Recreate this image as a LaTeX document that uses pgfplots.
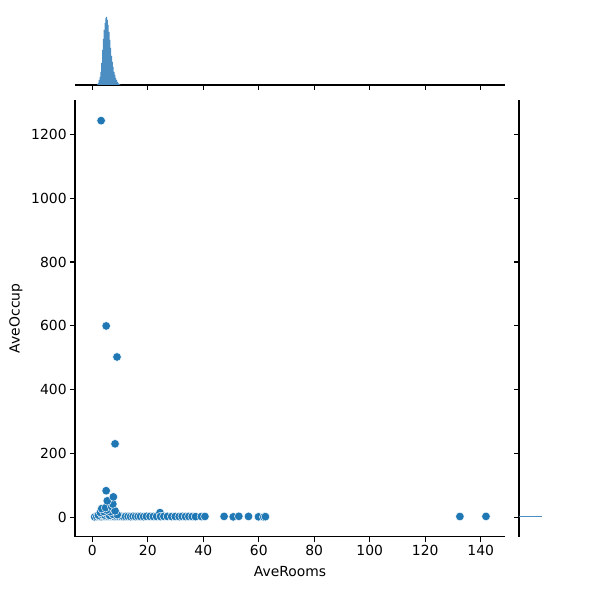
\documentclass[border=0pt]{standalone}
\usepackage{fontspec}
\setmainfont{DejaVu Sans}
\usepackage{pgfplots}
\pgfplotsset{compat=1.18}
\definecolor{c0}{HTML}{1F77B4}
\definecolor{histc}{HTML}{4C8EC2}
\begin{document}
\begin{tikzpicture}
\useasboundingbox (0bp,0bp) rectangle (603bp,590bp);
\pgfplotsset{
  base/.style={
    scale only axis,
    /pgf/number format/assume math mode=true,
    /pgf/number format/1000 sep={},
    tick align=outside,
    major tick length=4.86bp,
    tick style={black, line width=1.1bp},
    axis line style={black, line width=1.1bp, -},
    ticklabel style={font=\fontsize{13.9bp}{16bp}\selectfont},
    clip=false,
  }
}
% main joint axis
\begin{axis}[base,
  at={(75bp,53.3bp)}, anchor=south west,
  width=430bp, height=436.7bp,
  xmin=-6.24, xmax=148.76, ymin=-61, ymax=1308,
  axis x line*=bottom, axis y line*=left,
  xtick={0,20,...,140}, ytick={0,200,...,1200},
  xlabel={AveRooms}, ylabel={AveOccup},
  every axis x label/.style={at={(axis description cs:0.5,0)}, yshift=-35bp, anchor=center, font=\fontsize{13.9bp}{16bp}\selectfont},
  every axis y label/.style={at={(axis description cs:0,0.5)}, xshift=-59bp, rotate=90, anchor=center, font=\fontsize{13.9bp}{16bp}\selectfont},
]
\addplot[only marks, mark=*, mark size=4.3bp,
  mark options={fill=c0, draw=white, line width=0.45bp}] coordinates {
(0.85,1.1) (1.6,2.2) (2.4,2.8) (3.2,1.9) (4.0,3.2) (4.8,2.5) (5.6,3.0) (6.4,2.4)
(7.2,3.1) (8.0,2.2) (8.8,2.8) (9.6,2.3) (10.4,2.6) (11.2,2.1) (12.0,2.4)
(2.2,6.5) (3.4,9.0) (4.4,7.0) (5.2,11.0) (6.2,6.0) (7.4,9.5) (9.0,8.0)
(2.9,15) (4.1,18) (6.4,17) (5.2,23) (3.4,27) (4.8,30) (7.0,33) (8.2,20)
(7.4,41.5) (5.4,51.4) (7.6,63.75) (5.0,83.17) (8.2,230.17) (8.9,502.46)
(5.0,599.71) (3.17,1243.33)
(12.9,2.5) (13.8,2.0) (14.7,2.8) (15.6,2.2) (16.5,2.6) (17.4,2.4)
(18.5,2.0) (19.5,2.8) (20.8,2.6) (22.0,2.4) (23.2,2.4)
(24.4,14.5) (24.6,2.2) (25.8,2.8) (27.1,2.5) (28.6,2.2)
(29.9,2.4) (31.3,2.0) (32.4,2.7) (33.6,2.2) (34.8,2.5) (36.0,2.3) (37.2,1.9)
(39.3,2.2) (40.6,2.4) (47.5,2.6) (50.8,1.2)
(52.8,2.9) (56.3,2.5) (59.9,1.4) (61.8,1.0) (62.4,1.8) (132.5,2.3) (141.9,2.6)
};
\end{axis}
% top marginal histogram
\begin{axis}[base,
  at={(75bp,505bp)}, anchor=south west,
  width=430bp, height=80bp,
  xmin=-6.24, xmax=148.76, ymin=0, ymax=80,
  axis x line*=bottom, axis y line=none,
  xtick={0,20,...,140}, xticklabels={},
]
\addplot[const plot, fill=histc, draw=none] coordinates {
(1.7,0.5) (2.0,2) (2.3,5) (2.6,8) (2.9,13) (3.2,22) (3.5,35) (3.8,46) (4.1,55)
(4.4,62) (4.7,67) (5.0,68) (5.3,65) (5.6,60) (5.9,53) (6.2,45) (6.5,37) (6.8,29)
(7.1,23) (7.4,18) (7.7,13) (8.0,10) (8.3,7) (8.6,5) (8.9,3) (9.2,2) (9.5,1)
(9.8,0.5) (10.1,0)
} \closedcycle;
\end{axis}
% right marginal histogram
\begin{axis}[base,
  at={(519bp,53.3bp)}, anchor=south west,
  width=84bp, height=436.7bp,
  xmin=0, xmax=84, ymin=-61, ymax=1308,
  axis y line*=left, axis x line=none,
  ytick={0,200,...,1200}, yticklabels={},
]
\addplot[fill=histc, draw=none] coordinates {
(0,1) (23,1) (23,5) (0,5)
} -- cycle;
\end{axis}
\end{tikzpicture}
\end{document}
